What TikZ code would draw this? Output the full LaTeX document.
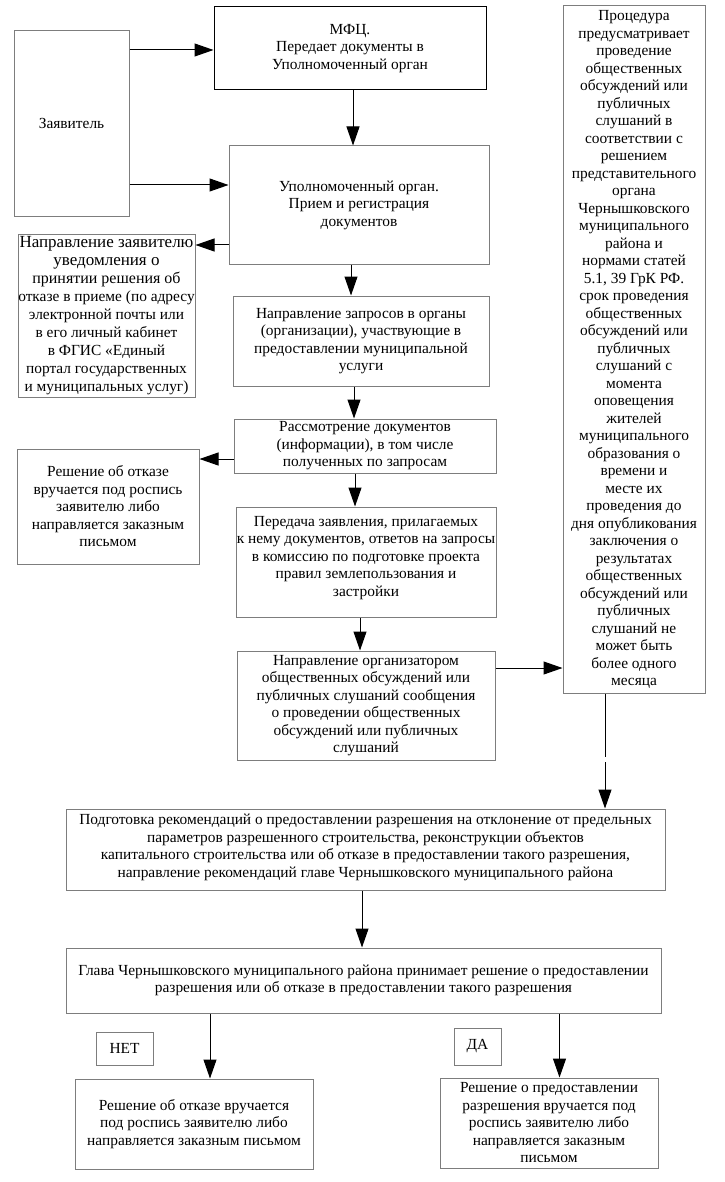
\documentclass[tikz,border=0pt]{standalone}
\usepackage{fontspec}
\setmainfont{Liberation Serif}
\usetikzlibrary{arrows.meta}
\definecolor{boxgray}{RGB}{125,125,125}
\newcommand\lgfont{\fontsize{17}{18}\selectfont}
\newcommand\mdfont{\fontsize{16}{18}\selectfont}
\begin{document}
\begin{tikzpicture}[x=1pt,y=-1pt,
  box/.style={draw=boxgray, line width=1pt, align=center, inner sep=0pt,
              font=\fontsize{15.4}{17.5}\selectfont, text=black},
  arr/.style={line width=1pt, -{Triangle[length=19pt,width=13pt]}},
  ln/.style={line width=1pt}]
\useasboundingbox (0,0) rectangle (724,1182);

\node[box, minimum width=115pt, minimum height=186pt] (zay) at (71.5,123.5) {Заявитель};
\node[box, draw=black, minimum width=272pt, minimum height=83pt] (mfc) at (350,48.5)
  {МФЦ.\\Передает документы в\\Уполномоченный орган};
\node[box, minimum width=260pt, minimum height=118pt] (upo) at (359,205)
  {Уполномоченный орган.\\Прием и регистрация\\документов};
\node[box, font=\fontsize{15.4}{18}\selectfont, minimum width=177pt, minimum height=162pt] (notif) at (106.5,316)
  {\lgfont Направление заявителю\\\lgfont уведомления о\\\mdfont принятии решения об\\отказе в приеме (по адресу\\электронной почты или\\в его личный кабинет\\в ФГИС «Единый\\портал государственных\\и муниципальных услуг)};
\node[box, minimum width=256pt, minimum height=90pt] (zapr) at (361,341)
  {Направление запросов в органы\\(организации), участвующие в\\предоставлении муниципальной\\услуги};
\node[box, minimum width=262pt, minimum height=54pt] (rass) at (365,446)
  {Рассмотрение документов\\(информации), в том числе\\полученных по запросам};
\node[box, minimum width=182pt, minimum height=115pt] (otk1) at (108,506.5)
  {Решение об отказе\\вручается под роспись\\заявителю либо\\направляется заказным\\письмом};
\node[box, minimum width=260pt, minimum height=110pt] (pered) at (366,562)
  {Передача заявления, прилагаемых\\к нему документов, ответов на запросы\\в комиссию по подготовке проекта\\правил землепользования и\\застройки\\[-5.5pt]\mbox{}};
\node[box, minimum width=258pt, minimum height=109pt] (org) at (366,705.5)
  {Направление организатором\\общественных обсуждений или\\публичных слушаний сообщения\\о проведении общественных\\обсуждений или публичных\\слушаний};
\node[box, minimum width=142pt, minimum height=687pt] (proc) at (634,349.5)
  {Процедура\\предусматривает\\проведение\\общественных\\обсуждений или\\публичных\\слушаний в\\соответствии с\\решением\\представительного\\органа\\Чернышковского\\муниципального\\района и\\нормами статей\\5.1, 39 ГрК РФ.\\срок проведения\\общественных\\обсуждений или\\публичных\\слушаний с\\момента\\оповещения\\жителей\\муниципального\\образования о\\времени и\\месте их\\проведения до\\дня опубликования\\заключения о\\результатах\\общественных\\обсуждений или\\публичных\\слушаний не\\может быть\\более одного\\месяца};
\node[box, minimum width=599pt, minimum height=81pt] (podg) at (365.5,849.5)
  {Подготовка рекомендаций о предоставлении разрешения на отклонение от предельных\\параметров разрешенного строительства, реконструкции объектов\\капитального строительства или об отказе в предоставлении такого разрешения,\\направление рекомендаций главе Чернышковского муниципального района\\[-9.5pt]\mbox{}};
\node[box, minimum width=595pt, minimum height=65pt] (glava) at (363.5,980.5)
  {Глава Чернышковского муниципального района принимает решение о предоставлении\\разрешения или об отказе в предоставлении такого разрешения};
\node[box, minimum width=57pt, minimum height=33pt] (net) at (124.5,1048.5) {НЕТ};
\node[box, minimum width=47pt, minimum height=37pt] (da) at (477.5,1046.5) {ДА};
\node[box, minimum width=238pt, minimum height=90pt] (otk2) at (194,1124)
  {Решение об отказе вручается\\под роспись заявителю либо\\направляется заказным письмом};
\node[box, minimum width=218pt, minimum height=90pt] (razr) at (549,1123)
  {Решение о предоставлении\\разрешения вручается под\\роспись заявителю либо\\направляется заказным\\письмом};

\coordinate (gap1) at (605,757);
\coordinate (gap2) at (605,762);

\draw[arr] (zay.east |- 0,50) -- (mfc.west |- 0,50);
\draw[arr] (zay.east |- 0,185) -- (upo.west |- 0,185);
\draw[arr] (mfc.south -| 353,0) -- (upo.north -| 353,0);
\draw[arr] (upo.west |- 0,245) -- (notif.east |- 0,245);
\draw[arr] (upo.south -| 351,0) -- (zapr.north -| 351,0);
\draw[arr] (zapr.south -| 354,0) -- (rass.north -| 354,0);
\draw[arr] (rass.west |- 0,459) -- (otk1.east |- 0,459);
\draw[arr] (rass.south -| 355,0) -- (pered.north -| 355,0);
\draw[arr] (pered.south -| 360,0) -- (org.north -| 360,0);
\draw[arr] (org.east |- 0,668) -- (proc.west |- 0,668);
\draw[ln] (proc.south -| gap1) -- (gap1);
\draw[arr] (gap2) -- (podg.north -| gap2);
\draw[arr] (podg.south -| 362,0) -- (glava.north -| 362,0);
\draw[arr] (glava.south -| 210,0) -- (otk2.north -| 210,0);
\draw[arr] (glava.south -| 559.5,0) -- (razr.north -| 559.5,0);
\end{tikzpicture}
\end{document}
